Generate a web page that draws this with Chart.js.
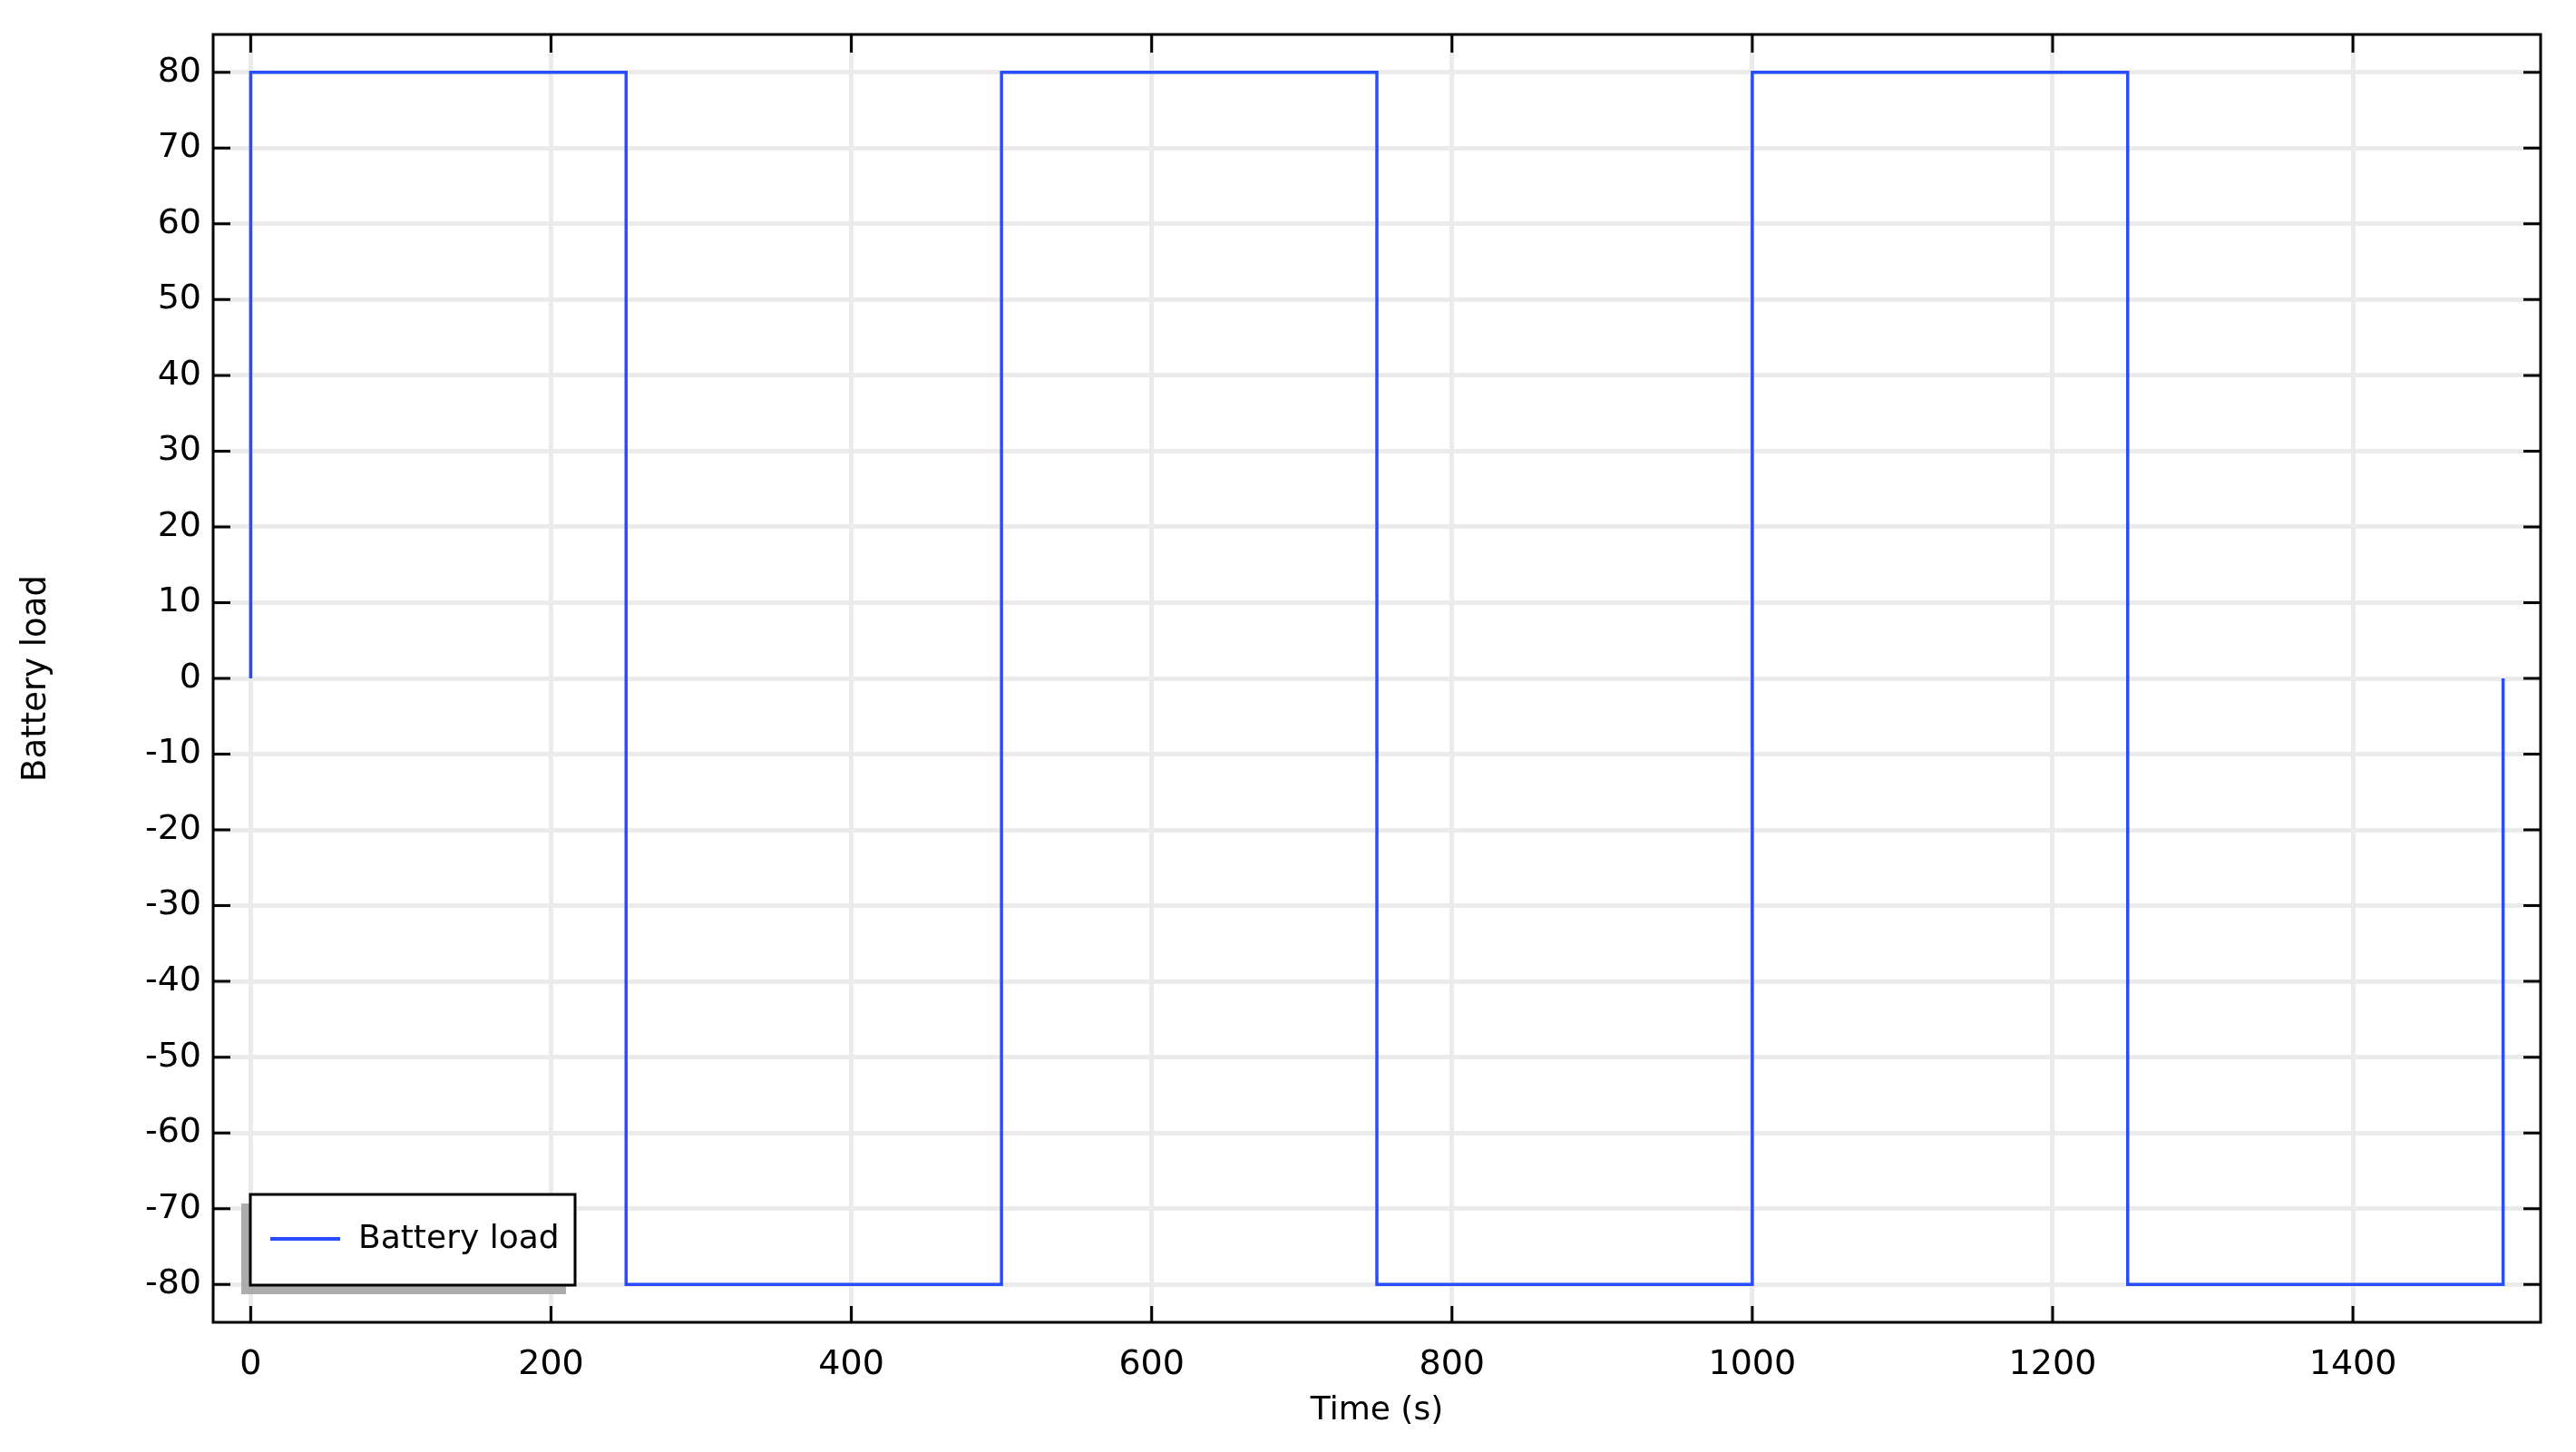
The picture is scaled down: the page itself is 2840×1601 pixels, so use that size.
<!DOCTYPE html>
<html>
<head>
<meta charset="utf-8">
<script src="https://cdn.jsdelivr.net/npm/chart.js@4.4.1/dist/chart.umd.min.js"></script>
<style>
    html, body { margin: 0; padding: 0; background: #fff; }
    canvas { display: block; }
</style>
</head>
<body>
<canvas id="grafico" width="2840" height="1601"></canvas>
<script>
// Battery load square wave (time in s)
const tempo = [0, 0, 250, 250, 500, 500, 750, 750, 1000, 1000, 1250, 1250, 1500, 1500];
const carga = [0, 80, 80, -80, -80, 80, 80, -80, -80, 80, 80, -80, -80, 0];

const xTicks = [0, 200, 400, 600, 800, 1000, 1200, 1400];
const yTicks = [80, 70, 60, 50, 40, 30, 20, 10, 0, -10, -20, -30, -40, -50, -60, -70, -80];

const fonte = "'DejaVu Sans', sans-serif";
const azul = "#2a4cff";

const moldura = {
    id: "moldura",
    afterDatasetsDraw(chart) {
        const ctx = chart.ctx;
        const a = chart.chartArea;
        const sx = chart.scales.x;
        const sy = chart.scales.y;

        ctx.save();
        ctx.strokeStyle = "#000";
        ctx.lineWidth = 3;

        // ticks, pointing inward on all four sides
        ctx.beginPath();
        sy.ticks.forEach(t => {
            const py = sy.getPixelForValue(t.value);
            ctx.moveTo(a.left, py);
            ctx.lineTo(a.left + 19, py);
            ctx.moveTo(a.right, py);
            ctx.lineTo(a.right - 19, py);
        });
        sx.ticks.forEach(t => {
            const px = sx.getPixelForValue(t.value);
            ctx.moveTo(px, a.bottom);
            ctx.lineTo(px, a.bottom - 18);
            ctx.moveTo(px, a.top);
            ctx.lineTo(px, a.top + 20);
        });
        ctx.stroke();

        ctx.strokeRect(a.left, a.top, a.right - a.left, a.bottom - a.top);

        // legend, lower left corner
        const bx = a.left + 41;
        const bw = 358;
        const bh = 100;
        const by = a.bottom - 41 - bh;

        ctx.fillStyle = "#acacac";
        ctx.fillRect(bx - 10, by + 10, bw, bh);
        ctx.fillStyle = "#fff";
        ctx.fillRect(bx, by, bw, bh);
        ctx.strokeRect(bx, by, bw, bh);

        ctx.strokeStyle = azul;
        ctx.lineWidth = 4;
        ctx.beginPath();
        ctx.moveTo(bx + 22, by + 49);
        ctx.lineTo(bx + 99, by + 49);
        ctx.stroke();

        ctx.fillStyle = "#000";
        ctx.font = "36px " + fonte;
        ctx.textBaseline = "middle";
        ctx.textAlign = "left";
        ctx.fillText(chart.data.datasets[0].label, bx + 119, by + 50);
        ctx.restore();
    }
};

new Chart(document.getElementById("grafico"), {
    type: "line",

    data: {
        datasets: [{
            label: "Battery load",
            data: tempo.map((t, i) => ({ x: t, y: carga[i] })),
            borderColor: azul,
            borderWidth: 3.5,
            pointRadius: 0,
            tension: 0,
            fill: false
        }]
    },

    options: {
        responsive: false,
        animation: false,
        devicePixelRatio: 1,
        layout: {
            padding: { top: 38, right: 39, left: 0, bottom: 0 }
        },
        plugins: {
            legend: { display: false },
            tooltip: { enabled: false }
        },
        scales: {
            x: {
                type: "linear",
                min: -25,
                max: 1525,
                afterBuildTicks: s => { s.ticks = xTicks.map(v => ({ value: v })); },
                afterFit: s => { s.height = 143; },
                border: { display: false },
                grid: {
                    color: "#ebebeb",
                    lineWidth: 5,
                    drawTicks: false
                },
                ticks: {
                    color: "#000",
                    padding: 24,
                    maxRotation: 0,
                    callback: v => String(v),
                    font: { family: fonte, size: 38 }
                },
                title: {
                    display: true,
                    text: "Time (s)",
                    color: "#000",
                    padding: { top: 0, bottom: 24 },
                    font: { family: fonte, size: 36 }
                }
            },

            y: {
                type: "linear",
                min: -85,
                max: 85,
                afterBuildTicks: s => { s.ticks = yTicks.map(v => ({ value: v })); },
                afterFit: s => { s.width = 235; },
                border: { display: false },
                grid: {
                    color: "#ebebeb",
                    lineWidth: 5,
                    drawTicks: false
                },
                ticks: {
                    color: "#000",
                    padding: 13,
                    callback: v => String(v),
                    font: { family: fonte, size: 38 }
                },
                title: {
                    display: true,
                    text: "Battery load",
                    color: "#000",
                    padding: { top: 18, bottom: 0 },
                    font: { family: fonte, size: 37 }
                }
            }
        }
    },

    plugins: [moldura]
});
</script>
</body>
</html>
